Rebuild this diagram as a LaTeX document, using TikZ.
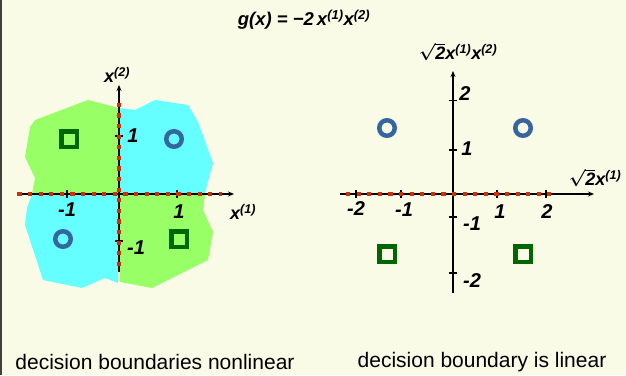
\documentclass[tikz,border=0pt]{standalone}
\usepackage{fontspec}
\setmainfont{Liberation Sans}
\usetikzlibrary{arrows.meta}
\definecolor{bgcream}{RGB}{250,251,230}
\definecolor{regiongreen}{RGB}{153,255,102}
\definecolor{regioncyan}{RGB}{102,255,255}
\definecolor{markgreen}{RGB}{0,102,0}
\definecolor{markblue}{RGB}{54,102,160}
\definecolor{boundred}{RGB}{204,51,0}
\newcommand{\vx}[1]{x\textsuperscript{(#1)}}
\newcommand{\rtwo}{{\boldmath$\sqrt{\mbox{\bfseries 2}}$}}

\begin{document}
\begin{tikzpicture}[
  x=1pt, y=-1pt,
  lab/.style={font=\fontsize{18}{18}\selectfont\bfseries\itshape, inner sep=0pt},
  ticklab/.style={font=\fontsize{20}{20}\selectfont\bfseries\itshape, inner sep=0pt},
  caption/.style={font=\fontsize{21}{21}\selectfont, inner sep=0pt},
  axis/.style={black, line width=1.4pt, -{Stealth[length=6pt,width=5pt]}},
  tickmark/.style={black, line width=1.4pt},
  boundary/.style={boundred, line width=4.2pt, dash pattern=on 4.2pt off 6.4pt},
  sqmark/.style={draw=markgreen, line width=4.5pt, minimum size=15.5pt, inner sep=0pt},
  cimark/.style={circle, draw=markblue, line width=4.5pt, minimum size=15.5pt, inner sep=0pt}
]
  \useasboundingbox (0,0) rectangle (626,375);
  \fill[bgcream] (0,0) rectangle (626,375);
  \draw[black!75, line width=1.5pt] (0.75,0) -- (0.75,375);

  \node[lab, font=\fontsize{18.5}{18.5}\selectfont\bfseries\itshape] (title) at (304,20)
    {g(x) = −2\,\vx{1}\vx{2}};

  % left: input space
  \fill[regiongreen] (119,108) -- (88,100) -- (35,120) -- (30,127) -- (25,157)
    -- (35,178) -- (32,194) -- (119,194) -- cycle;
  \fill[regioncyan] (119,108) -- (135,110) -- (155,100) -- (188,105) -- (198,122)
    -- (213,163) -- (207,185) -- (205,194) -- (119,194) -- cycle;
  \fill[regioncyan] (32,194) -- (27,208) -- (25,225) -- (43,280) -- (82,288)
    -- (105,278) -- (118,283) -- (119,194) -- cycle;
  \fill[regiongreen] (119,194) -- (205,194) -- (203,210) -- (213,232) -- (208,260)
    -- (152,288) -- (120,282) -- cycle;

  \coordinate (xLs) at (17,194);  \coordinate (xLe) at (234,194);
  \coordinate (yLs) at (119,272); \coordinate (yLe) at (119,85);
  \draw[axis] (xLs) -- (xLe);
  \draw[axis] (yLs) -- (yLe);
  \foreach \x in {67,177} \draw[tickmark] (\x,190) -- (\x,198);
  \foreach \y in {136,241} \draw[tickmark] (115,\y) -- (123,\y);
  \draw[boundary] (17.3,194) -- (222,194);
  \draw[boundary] (119,102.7) -- (119,272);

  \node[sqmark] (sqUL) at (69,139) {};
  \node[cimark] (ciUR) at (174,139) {};
  \node[cimark] (ciLL) at (63,239) {};
  \node[sqmark] (sqLR) at (179,239) {};

  \node[lab] (x2L) at (117,75) {\vx{2}};
  \node[lab] (x1L) at (243,212) {\vx{1}};
  \node[ticklab] (tyL1) at (133,136) {1};
  \node[ticklab] (tyLm1) at (136,248) {-1};
  \node[ticklab] (txLm1) at (67,210) {-1};
  \node[ticklab] (txL1) at (179,212) {1};

  % right: feature space
  \coordinate (xRs) at (340,194); \coordinate (xRe) at (594,194);
  \coordinate (yRs) at (453,293); \coordinate (yRe) at (453,71);
  \draw[axis] (xRs) -- (xRe);
  \draw[axis] (yRs) -- (yRe);
  \foreach \x in {356,401,497,546} \draw[tickmark] (\x,190) -- (\x,198);
  \foreach \y in {100.7,150,217,273} \draw[tickmark] (449,\y) -- (457,\y);
  \draw[boundary] (346,194) -- (551,194);

  \node[cimark] (ciRL) at (387,128) {};
  \node[cimark] (ciRR) at (523,128) {};
  \node[sqmark] (sqRL) at (387,254) {};
  \node[sqmark] (sqRR) at (523,254) {};

  \node[lab] (yRlab) at (458,52) {\rtwo\vx{1}\vx{2}};
  \node[lab] (xRlab) at (595,178) {\rtwo\vx{1}};
  \node[ticklab] (tyR2) at (465,94) {2};
  \node[ticklab] (tyR1) at (467,149) {1};
  \node[ticklab] (tyRm1) at (472,224) {-1};
  \node[ticklab] (tyRm2) at (472,281) {-2};
  \node[ticklab] (txRm2) at (356,209) {-2};
  \node[ticklab] (txRm1) at (404,210) {-1};
  \node[ticklab] (txR1) at (500,212) {1};
  \node[ticklab] (txR2) at (547,212) {2};

  \node[caption] (capL) at (155,362) {decision boundaries nonlinear};
  \node[caption] (capR) at (482,362) {decision boundary is linear};
\end{tikzpicture}
\end{document}
